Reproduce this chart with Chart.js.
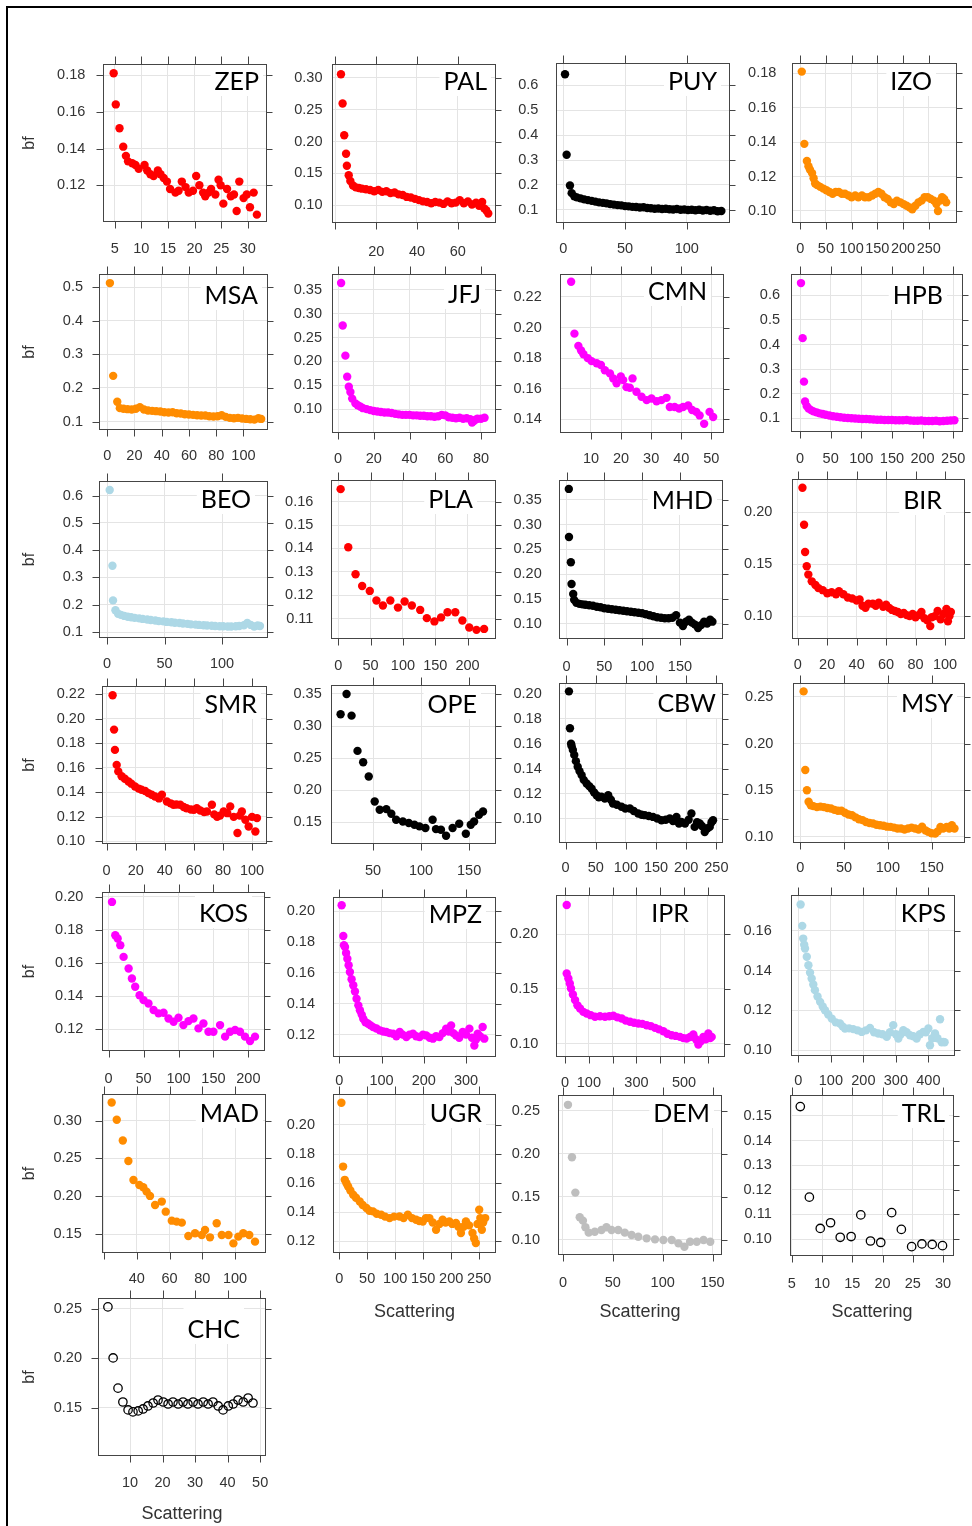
<!DOCTYPE html>
<html>
<head>
<meta charset="utf-8">
<title>bf vs Scattering</title>
<script src="https://cdn.jsdelivr.net/npm/chart.js@4.4.0/dist/chart.umd.min.js"></script>
<style>
  body { margin:0; background:#fff; }
  #page { position:relative; width:972px; height:1526px; overflow:hidden; }
  #frame { position:absolute; left:6px; top:6px; width:990px; height:1540px; border-left:2px solid #000; border-top:2px solid #000; }
  canvas { position:absolute; }
</style>
</head>
<body>
<div id="page"><div id="frame"></div></div>
<script>
// [scattering, bf] pairs
const zep = [[4.8,0.181],[5.2,0.164],[5.9,0.151],[6.6,0.141],[7.1,0.136],[7.5,0.133],[8.3,0.132],[8.9,0.131],[9.5,0.129],[10.6,0.131],[11.1,0.128],[11.7,0.126],[12.3,0.125],[13.1,0.128],[13.6,0.126],[14.2,0.124],[14.8,0.122],[15.4,0.118],[16.4,0.116],[17.0,0.117],[17.6,0.122],[18.3,0.119],[18.9,0.116],[19.7,0.117],[20.3,0.125],[20.9,0.120],[21.6,0.116],[22.0,0.114],[22.6,0.116],[23.1,0.118],[23.9,0.115],[24.5,0.123],[24.9,0.120],[25.4,0.110],[26.1,0.118],[26.8,0.114],[27.4,0.115],[27.9,0.106],[28.4,0.122],[29.2,0.113],[29.8,0.115],[30.4,0.108],[31.1,0.116],[31.7,0.104]];
const pal = [[2.7,0.306],[3.5,0.260],[4.3,0.210],[5.2,0.181],[5.6,0.162],[6.5,0.147],[7.3,0.138],[8.6,0.131],[10,0.128],[11.5,0.127],[13,0.126],[15,0.125],[17,0.124],[19,0.122],[21,0.124],[23,0.121],[25,0.122],[27,0.119],[29,0.120],[31,0.117],[33,0.116],[35,0.113],[37,0.112],[39,0.110],[41,0.108],[43,0.106],[45,0.105],[47,0.103],[49,0.105],[51,0.104],[53,0.102],[55,0.106],[57,0.103],[59,0.104],[61,0.108],[63,0.103],[65,0.106],[67,0.101],[69,0.104],[70.5,0.099],[72,0.105],[73,0.095],[74,0.092],[75,0.087]];
const puy = [[1.4,0.645],[2.7,0.321],[5.4,0.198],[6.8,0.167],[8.9,0.154],[11,0.150],[14,0.146],[17,0.142],[20,0.139],[23,0.136],[26,0.133],[29,0.130],[32,0.128],[35,0.126],[38,0.123],[41,0.121],[44,0.119],[47,0.118],[50,0.115],[53,0.114],[56,0.112],[59,0.111],[62,0.109],[65,0.110],[68,0.107],[71,0.106],[74,0.104],[77,0.105],[80,0.103],[83,0.104],[86,0.102],[89,0.101],[92,0.103],[95,0.100],[98,0.101],[101,0.099],[104,0.100],[107,0.098],[110,0.100],[113,0.097],[116,0.099],[119,0.096],[122,0.098],[125,0.094],[128,0.095]];
const izo = [[3,0.181],[8,0.139],[13,0.129],[16,0.126],[19,0.124],[23,0.122],[26,0.119],[29,0.116],[33,0.115],[39,0.114],[45,0.113],[51,0.112],[57,0.111],[63,0.110],[69,0.111],[75,0.111],[81,0.110],[87,0.110],[94,0.109],[100,0.108],[107,0.109],[113,0.108],[120,0.109],[126,0.108],[133,0.108],[140,0.109],[146,0.110],[152,0.111],[158,0.110],[164,0.108],[170,0.107],[176,0.105],[182,0.104],[188,0.106],[195,0.105],[201,0.104],[207,0.103],[213,0.102],[218,0.101],[224,0.103],[230,0.105],[236,0.106],[242,0.108],[248,0.108],[254,0.107],[260,0.106],[265,0.104],[268,0.100],[272,0.106],[276,0.108],[280,0.107],[284,0.105]];
const msa = [[2,0.512],[4.4,0.236],[7.4,0.159],[9.3,0.140],[12,0.138],[15,0.137],[18,0.136],[21,0.138],[24,0.143],[27,0.136],[30,0.133],[33,0.132],[36,0.131],[39,0.130],[42,0.128],[45,0.127],[48,0.128],[51,0.125],[54,0.124],[57,0.122],[60,0.121],[63,0.120],[66,0.119],[69,0.118],[72,0.118],[75,0.116],[78,0.115],[81,0.116],[84,0.119],[87,0.114],[90,0.111],[93,0.110],[96,0.111],[99,0.109],[102,0.108],[105,0.107],[108,0.106],[111,0.110],[113,0.108]];
const jfj = [[1.7,0.364],[2.6,0.275],[4.1,0.212],[5.1,0.168],[6,0.147],[6.9,0.136],[7.9,0.122],[9.7,0.112],[11,0.108],[12.6,0.105],[14,0.102],[16,0.100],[18,0.098],[20,0.096],[22,0.095],[24,0.094],[26,0.093],[28,0.093],[30,0.092],[32,0.090],[34,0.089],[36,0.088],[38,0.088],[40,0.088],[42,0.087],[44,0.087],[46,0.086],[48,0.086],[50,0.085],[52,0.085],[54,0.084],[56,0.085],[58,0.088],[60,0.087],[62,0.083],[64,0.082],[66,0.081],[68,0.082],[70,0.080],[72,0.081],[74,0.079],[75,0.072],[76,0.075],[77,0.078],[78,0.080],[80,0.080],[82,0.082]];
const cmn = [[3.4,0.2299],[4.5,0.196],[5.8,0.188],[6.7,0.185],[7.5,0.1825],[8.9,0.180],[10.2,0.178],[11.9,0.1766],[13.3,0.1755],[14.6,0.172],[16.3,0.170],[17.4,0.1667],[18.5,0.1635],[19.9,0.168],[20.7,0.1656],[21.8,0.161],[22.9,0.1606],[23.8,0.1667],[25.1,0.158],[26.8,0.1547],[28.5,0.1525],[30.1,0.1536],[31.8,0.1518],[33.4,0.1525],[35.1,0.154],[36.2,0.148],[37.8,0.148],[39.3,0.147],[40.6,0.148],[42.3,0.149],[43.6,0.146],[45,0.1448],[46.1,0.1425],[47.6,0.137],[49.4,0.1448],[50.6,0.1415]];
const hpb = [[1.6,0.650],[4.3,0.426],[6.5,0.249],[8.2,0.168],[10.9,0.150],[14,0.140],[18,0.133],[22,0.128],[27,0.124],[32,0.120],[37,0.117],[42,0.114],[48,0.111],[54,0.108],[60,0.106],[66,0.104],[72,0.102],[78,0.101],[84,0.100],[90,0.099],[96,0.098],[102,0.097],[108,0.097],[114,0.096],[120,0.095],[126,0.094],[132,0.094],[138,0.093],[144,0.093],[150,0.093],[156,0.092],[162,0.092],[168,0.092],[174,0.093],[180,0.091],[186,0.090],[192,0.090],[198,0.091],[204,0.089],[210,0.089],[216,0.089],[222,0.090],[228,0.088],[234,0.089],[240,0.090],[246,0.091],[252,0.092]];
const beo = [[2.3,0.621],[4.7,0.343],[5.2,0.216],[7.3,0.180],[9.6,0.167],[12,0.163],[15,0.159],[18,0.156],[21,0.154],[24,0.152],[28,0.150],[31,0.148],[35,0.146],[38,0.144],[42,0.142],[45,0.140],[49,0.139],[52,0.137],[56,0.136],[59,0.134],[63,0.133],[66,0.131],[70,0.130],[73,0.128],[77,0.127],[80,0.126],[84,0.125],[87,0.124],[91,0.123],[94,0.122],[98,0.121],[101,0.121],[105,0.120],[108,0.120],[112,0.121],[115,0.122],[119,0.125],[122,0.133],[125,0.126],[128,0.120],[131,0.124],[133,0.122]];
const pla = [[3.6,0.1653],[15.4,0.1405],[26.7,0.129],[36.9,0.124],[48.7,0.1219],[59,0.1178],[69,0.1157],[80.5,0.1178],[92.3,0.1148],[102.6,0.1174],[113.8,0.1157],[126.7,0.1138],[137,0.1103],[148.7,0.1089],[159,0.1106],[169,0.1128],[181,0.1128],[192,0.1093],[202.6,0.1063],[213.8,0.1053],[225.6,0.1057]];
const mhd = [[3,0.372],[3.2,0.275],[5.7,0.224],[6.6,0.180],[8.8,0.160],[10,0.148],[13,0.142],[17,0.140],[21,0.139],[25,0.138],[30,0.137],[35,0.136],[40,0.134],[45,0.133],[50,0.131],[55,0.130],[60,0.129],[65,0.128],[70,0.127],[75,0.126],[80,0.125],[85,0.124],[90,0.123],[95,0.122],[100,0.121],[105,0.119],[110,0.117],[115,0.115],[120,0.113],[125,0.112],[130,0.111],[135,0.111],[140,0.112],[145,0.117],[150,0.102],[154,0.095],[158,0.104],[162,0.108],[166,0.102],[170,0.098],[174,0.091],[178,0.097],[182,0.104],[186,0.100],[190,0.108],[193,0.104]];
const bir = [[3.2,0.2236],[4.3,0.188],[5,0.1617],[6.1,0.148],[7.2,0.140],[9.5,0.1335],[12,0.130],[14,0.127],[17,0.125],[20,0.122],[23,0.123],[26,0.121],[28,0.124],[31,0.121],[34,0.118],[37,0.117],[40,0.115],[42,0.116],[44,0.110],[46,0.108],[48,0.112],[51,0.112],[53,0.110],[55,0.113],[58,0.109],[60,0.111],[62,0.108],[64,0.106],[66,0.105],[68,0.104],[70,0.102],[72,0.103],[74,0.101],[76,0.100],[78,0.102],[80,0.099],[82,0.101],[84,0.104],[86,0.098],[88,0.096],[90,0.0904],[91,0.099],[93,0.100],[95,0.105],[97,0.097],[99,0.102],[101,0.107],[102,0.095],[103,0.100],[104,0.104]];
const smr = [[4.1,0.219],[5.1,0.191],[5.7,0.1745],[6.9,0.1623],[8,0.157],[10.3,0.153],[12.5,0.151],[15,0.1488],[17,0.147],[19.5,0.1447],[22,0.143],[24,0.142],[26.5,0.141],[28.7,0.1393],[31,0.138],[33.3,0.1366],[36,0.135],[38,0.138],[41.4,0.1325],[44,0.131],[46,0.1298],[48,0.130],[50.6,0.1298],[53,0.128],[55,0.127],[58,0.126],[60,0.1257],[62,0.127],[64.4,0.1252],[67,0.124],[69,0.1244],[72.4,0.1298],[74,0.122],[76,0.120],[78,0.121],[80.5,0.1244],[83,0.123],[85,0.1285],[87.4,0.120],[90,0.1068],[91.5,0.121],[93,0.1244],[95.4,0.1176],[97.7,0.1122],[100,0.120],[102.3,0.1081],[103.4,0.119]];
const ope = [[16.2,0.3184],[22.4,0.35],[27.6,0.3163],[33.8,0.2614],[39.7,0.2438],[45.5,0.2215],[51.7,0.1826],[56.9,0.1697],[63.8,0.1707],[69,0.1635],[74,0.1541],[81,0.1515],[87.2,0.149],[93.1,0.1464],[98.3,0.1438],[104.5,0.1412],[112,0.1541],[115.5,0.1396],[120.7,0.1386],[126,0.1293],[132.8,0.1412],[139.7,0.148],[146.6,0.1324],[151.7,0.1464],[155.2,0.1515],[160.3,0.1619],[164.5,0.1671]];
const cbw = [[5.5,0.2019],[7.2,0.1724],[9,0.160],[10,0.158],[12,0.155],[14.3,0.151],[17,0.146],[20,0.1415],[23,0.138],[26.5,0.1348],[30,0.131],[34.8,0.1281],[39,0.126],[43,0.124],[47,0.121],[51.3,0.1187],[55,0.117],[59.6,0.1174],[65,0.116],[70.6,0.1187],[75,0.115],[78.5,0.112],[85,0.111],[92.7,0.1094],[99,0.108],[106.5,0.108],[113,0.106],[120.3,0.104],[126,0.103],[131.3,0.1027],[138,0.102],[145,0.1013],[152,0.100],[159,0.0986],[166,0.099],[172.7,0.1],[178,0.098],[183.8,0.1013],[188,0.096],[192,0.0973],[198,0.096],[204,0.099],[208.6,0.104],[214,0.0933],[218,0.097],[222.4,0.096],[226,0.094],[230.7,0.0892],[235,0.092],[239,0.0933],[242,0.097],[244.5,0.0986]];
const msy = [[3.8,0.256],[5.7,0.1718],[7.6,0.150],[9.5,0.1377],[12,0.134],[15,0.133],[19,0.132],[23,0.1325],[27,0.132],[31,0.131],[35,0.1305],[39,0.129],[43,0.128],[47,0.128],[51,0.126],[55,0.124],[59,0.1233],[63,0.121],[67,0.119],[71,0.118],[75,0.116],[79,0.115],[83,0.1144],[87,0.113],[91,0.1126],[95,0.112],[99,0.111],[103,0.1108],[107,0.110],[111,0.109],[115,0.109],[119,0.108],[123,0.109],[127,0.110],[131,0.109],[135,0.108],[139,0.111],[143,0.107],[146,0.1054],[150,0.104],[154,0.1036],[157,0.106],[160,0.1108],[163,0.109],[167,0.1108],[170,0.109],[173,0.1126],[176,0.109]];
const kos = [[4.8,0.197],[9.5,0.1768],[12.9,0.1748],[16.7,0.1708],[21.4,0.1637],[28.6,0.1567],[33.3,0.1506],[38,0.1456],[44.3,0.1405],[50,0.1375],[57,0.1355],[64.3,0.1315],[71.4,0.1295],[78.6,0.1299],[85.7,0.1264],[93,0.1244],[100,0.1268],[107,0.1224],[114.3,0.1248],[121.4,0.1264],[128.6,0.1204],[135.7,0.1234],[142.9,0.1184],[150,0.1184],[159.5,0.1224],[166.7,0.1154],[173.8,0.1184],[181,0.1194],[188,0.1184],[195.2,0.1154],[202.4,0.1127],[209.5,0.1154]];
const mpz = [[5.5,0.2039],[9.4,0.184],[11,0.178],[13.4,0.1769],[16,0.173],[19,0.1693],[22,0.165],[25,0.1606],[29,0.156],[33,0.152],[37,0.148],[40.8,0.1433],[45,0.139],[48.7,0.1358],[53,0.133],[56.6,0.1303],[62,0.128],[68.3,0.1271],[74,0.126],[80,0.1249],[88,0.124],[96,0.1228],[104,0.122],[111.5,0.1217],[119,0.121],[127.3,0.1206],[135,0.119],[143,0.1217],[150,0.120],[158.7,0.1185],[166,0.120],[174.4,0.1206],[182,0.119],[190,0.1185],[198,0.120],[205.8,0.1195],[214,0.118],[221.5,0.1174],[229,0.119],[237,0.1185],[245,0.121],[253,0.1239],[259,0.122],[264.7,0.126],[270,0.121],[276.5,0.1195],[284,0.118],[292.2,0.1217],[300,0.120],[308,0.1239],[314,0.118],[319.7,0.113],[324,0.117],[327.6,0.1206],[333,0.119],[339.4,0.125],[343.3,0.1174]];
const ipr = [[7,0.2269],[7,0.1642],[14,0.1596],[20,0.155],[25,0.1505],[33,0.145],[42,0.1398],[52,0.135],[63,0.1321],[77,0.129],[91,0.1275],[108,0.126],[126,0.1245],[147,0.125],[168,0.1245],[186,0.125],[203,0.1254],[220,0.124],[238,0.123],[255,0.121],[273,0.12],[290,0.119],[308,0.1183],[325,0.118],[343,0.1168],[360,0.116],[378,0.1144],[395,0.113],[413,0.1113],[430,0.109],[448,0.1076],[465,0.107],[483,0.1061],[497,0.105],[511,0.1046],[525,0.106],[539,0.1083],[550,0.104],[560,0.0991],[570,0.102],[581,0.1061],[591,0.104],[602,0.1092],[610,0.105],[616,0.1061]];
const kps = [[7,0.1732],[12,0.1625],[15,0.1561],[18,0.153],[20.5,0.1511],[26,0.147],[31,0.1427],[36,0.139],[41,0.136],[46,0.133],[51,0.1302],[59,0.127],[67,0.1243],[75,0.122],[82,0.1201],[92,0.118],[102.6,0.1159],[115,0.114],[128,0.1134],[136,0.112],[143.6,0.1109],[156,0.111],[169,0.1106],[182,0.110],[195,0.1092],[208,0.110],[220.5,0.1112],[233,0.109],[246,0.1084],[259,0.108],[272,0.1067],[282,0.109],[292,0.1126],[300,0.108],[307.7,0.1059],[315,0.108],[323,0.1101],[333,0.109],[343.6,0.1075],[354,0.107],[364,0.1059],[374,0.108],[384.6,0.1092],[392,0.109],[400,0.1109],[405,0.1025],[412,0.106],[420.5,0.1084],[428,0.106],[436,0.1156],[441,0.104],[446,0.1042],[450,0.104]];
const mad = [[24.7,0.3238],[27.8,0.3009],[31.5,0.2735],[34.9,0.2466],[38,0.2215],[41.6,0.2149],[44,0.2118],[46,0.2061],[48.1,0.2004],[51.2,0.1884],[55.3,0.1929],[57.7,0.1796],[61.4,0.1677],[64.4,0.1664],[67.5,0.1651],[71.5,0.1474],[75.6,0.151],[79.7,0.1488],[81.7,0.1554],[84.7,0.1457],[88.8,0.1642],[91.9,0.1488],[96,0.1488],[99,0.1377],[102,0.1466],[105,0.151],[108.7,0.1488],[112.2,0.14]];
const ugr = [[4,0.2153],[7,0.1714],[10,0.1623],[13,0.160],[16,0.1577],[20,0.155],[25,0.152],[30,0.150],[36.7,0.1474],[42,0.145],[48.6,0.1429],[54,0.141],[60.4,0.1406],[67,0.139],[75,0.1383],[82,0.137],[90,0.136],[98,0.137],[107.8,0.1371],[115,0.136],[122.6,0.1383],[130,0.136],[137.4,0.1349],[143,0.134],[149.3,0.1337],[155,0.136],[161,0.136],[167,0.133],[173,0.128],[179,0.132],[184.8,0.1349],[190,0.133],[196.7,0.1337],[202,0.132],[208.5,0.1326],[213,0.130],[217.4,0.1257],[222,0.130],[226.3,0.1337],[232,0.131],[238,0.1257],[241,0.122],[244,0.1189],[247,0.132],[250,0.1417],[252,0.136],[254.7,0.128],[257,0.133],[260.7,0.136]];
const dem = [[5,0.2566],[9,0.1959],[12.4,0.1549],[16.8,0.1263],[20,0.1224],[22.5,0.1147],[25.8,0.1085],[31.9,0.1096],[38.6,0.1116],[43.6,0.1147],[48.7,0.1116],[55.4,0.1116],[62,0.1085],[68.8,0.1058],[75.5,0.1038],[83.9,0.1019],[92.3,0.1007],[100.7,0.1],[109,0.1],[115.8,0.0961],[121.8,0.0922],[127.5,0.098],[134.2,0.098],[141,0.1],[147.7,0.098]];
const trl = [[6.4,0.1538],[7.9,0.117],[9.7,0.1043],[11.4,0.1066],[13,0.1007],[14.8,0.101],[16.4,0.1098],[18,0.0992],[19.7,0.0986],[21.5,0.1107],[23.1,0.1039],[24.8,0.0969],[26.5,0.098],[28.2,0.0978],[29.9,0.0973]];
const chc = [[3.2,0.252],[4.8,0.2005],[6.3,0.170],[7.8,0.156],[9.4,0.148],[10.9,0.146],[12.5,0.147],[14,0.149],[15.5,0.152],[17.1,0.155],[18.6,0.158],[20.2,0.156],[21.7,0.154],[23.2,0.156],[24.8,0.154],[26.3,0.156],[27.8,0.154],[29.4,0.156],[30.9,0.154],[32.5,0.156],[34,0.154],[35.5,0.156],[37.1,0.152],[38.6,0.148],[40.2,0.152],[41.7,0.154],[43.2,0.158],[44.8,0.156],[46.3,0.160],[47.8,0.155]];

const RED = '#ff0000', BLACK = '#000000', ORANGE = '#ff8c00', MAGENTA = '#ff00ff', LIGHTBLUE = '#add8e6', GREY = '#bebebe';

// layout of each panel: plot box [left, top, right, bottom], axis limits and ticks
const panels = [
  {name:'ZEP', pts:zep, col:RED, box:[103,64,267,222], xr:[2.8,33.6], yr:[0.100,0.186], xt:[5,10,15,20,25,30], yt:[0.12,0.14,0.16,0.18], yd:2, ypad:17.7, xly:248.5, dx:8, base:26, first:true},
  {name:'PAL', pts:pal, col:RED, box:[332,64,496,223], xr:[-1.7,78.8], yr:[0.072,0.322], xt:[0,20,40,60], xh:[0], yt:[0.10,0.15,0.20,0.25,0.30], yd:2, ypad:9.5, xly:251.5, dx:9, base:26},
  {name:'PUY', pts:puy, col:BLACK, box:[556,63,730,223], xr:[-5.9,135], yr:[0.047,0.690], xt:[0,50,100], yt:[0.1,0.2,0.3,0.4,0.5,0.6], yd:1, ypad:17.7, xly:249, dx:13, base:27},
  {name:'IZO', pts:izo, col:ORANGE, box:[792,63,957,223], xr:[-16,305], yr:[0.093,0.186], xt:[0,50,100,150,200,250], yt:[0.10,0.12,0.14,0.16,0.18], yd:2, ypad:15.7, xly:249, dx:25, base:27},
  {name:'MSA', pts:msa, col:ORANGE, box:[99,274,268,430], xr:[-6,118], yr:[0.075,0.539], xt:[0,20,40,60,80,100], yt:[0.1,0.2,0.3,0.4,0.5], yd:1, ypad:16, xly:456, dx:10, base:30, first:true},
  {name:'JFJ', pts:jfj, col:MAGENTA, box:[332,274,496,433], xr:[-3.4,88.4], yr:[0.05,0.383], xt:[0,20,40,60,80], yt:[0.10,0.15,0.20,0.25,0.30,0.35], yd:2, ypad:10, xly:459, dx:15, base:29},
  {name:'CMN', pts:cmn, col:MAGENTA, box:[560,274,724,433], xr:[-0.3,54.2], yr:[0.131,0.235], xt:[10,20,30,40,50], yt:[0.14,0.16,0.18,0.20,0.22], yd:2, ypad:18.3, xly:459, dx:17, base:26},
  {name:'HPB', pts:hpb, col:MAGENTA, box:[791,274,963,432], xr:[-14.7,266], yr:[0.044,0.687], xt:[0,50,100,150,200,250], yt:[0.1,0.2,0.3,0.4,0.5,0.6], yd:1, ypad:11, xly:459, dx:20, base:30},
  {name:'BEO', pts:beo, col:LIGHTBLUE, box:[99,481,268,638], xr:[-7,140], yr:[0.078,0.654], xt:[0,50,100], yt:[0.1,0.2,0.3,0.4,0.5,0.6], yd:1, ypad:16, xly:663.5, dx:17, base:27, first:true},
  {name:'PLA', pts:pla, col:RED, box:[331,480,496,639], xr:[-11.3,244], yr:[0.1014,0.1692], xt:[0,50,100,150,200], yt:[0.11,0.12,0.13,0.14,0.15,0.16], yd:2, ypad:17.7, xly:666, dx:23, base:28},
  {name:'MHD', pts:mhd, col:BLACK, box:[559,480,723,639], xr:[-10,207], yr:[0.069,0.390], xt:[0,50,100,150], yt:[0.10,0.15,0.20,0.25,0.30,0.35], yd:2, ypad:17.3, xly:666.5, dx:10, base:29},
  {name:'BIR', pts:bir, col:RED, box:[792,479,965,639], xr:[-3.9,113.6], yr:[0.078,0.232], xt:[0,20,40,60,80,100], yt:[0.10,0.15,0.20], yd:2, ypad:19.7, xly:665, dx:23, base:30},
  {name:'SMR', pts:smr, col:RED, box:[102,686,267,844], xr:[-3.2,110.3], yr:[0.0979,0.2265], xt:[0,20,40,60,80,100], yt:[0.10,0.12,0.14,0.16,0.18,0.20,0.22], yd:2, ypad:17, xly:871, dx:10, base:27, first:true},
  {name:'OPE', pts:ope, col:BLACK, box:[331,685,496,844], xr:[6.2,178], yr:[0.1164,0.364], xt:[50,100,150], yt:[0.15,0.20,0.25,0.30,0.35], yd:2, ypad:9.3, xly:871, dx:19, base:28},
  {name:'CBW', pts:cbw, col:BLACK, box:[559,683,723,843], xr:[-11,261], yr:[0.0804,0.2086], xt:[0,50,100,150,200,250], yt:[0.10,0.12,0.14,0.16,0.18,0.20], yd:2, ypad:17.3, xly:868, dx:7, base:29},
  {name:'MSY', pts:msy, col:ORANGE, box:[793,683,965,843], xr:[-8.3,188], yr:[0.0935,0.265], xt:[0,50,100,150], yt:[0.10,0.15,0.20,0.25], yd:2, ypad:19.7, xly:868, dx:12, base:29},
  {name:'KOS', pts:kos, col:MAGENTA, box:[102,892,265,1051], xr:[-9.5,223.8], yr:[0.1067,0.203], xt:[0,50,100,150,200], yt:[0.12,0.14,0.16,0.18,0.20], yd:2, ypad:18.7, xly:1079, dx:17, base:30, first:true},
  {name:'MPZ', pts:mpz, col:MAGENTA, box:[333,897,496,1057], xr:[-15,371], yr:[0.1055,0.2093], xt:[0,100,200,300], yt:[0.12,0.14,0.16,0.18,0.20], yd:2, ypad:18, xly:1081, dx:14, base:26},
  {name:'IPR', pts:ipr, col:MAGENTA, box:[556,895,725,1057], xr:[-38,672], yr:[0.0877,0.236], xt:[0,100,200,300,400,500,600], xh:[200,400,600], yt:[0.10,0.15,0.20], yd:2, ypad:17.7, xly:1083, dx:36, base:27},
  {name:'KPS', pts:kps, col:LIGHTBLUE, box:[791,895,955,1056], xr:[-22.6,482], yr:[0.0971,0.178], xt:[0,100,200,300,400], yt:[0.10,0.12,0.14,0.16], yd:2, ypad:19.3, xly:1081, dx:9, base:27},
  {name:'MAD', pts:mad, col:ORANGE, box:[102,1094,266,1253], xr:[18.8,118.9], yr:[0.125,0.335], xt:[20,40,60,80,100], xh:[20], yt:[0.15,0.20,0.25,0.30], yd:2, ypad:20.3, xly:1279, dx:7, base:28, first:true},
  {name:'UGR', pts:ugr, col:ORANGE, box:[333,1094,496,1253], xr:[-11,280], yr:[0.112,0.2213], xt:[0,50,100,150,200,250], yt:[0.12,0.14,0.16,0.18,0.20], yd:2, ypad:18, xly:1279, dx:14, base:28, scat:1313},
  {name:'DEM', pts:dem, col:GREY, box:[558,1095,722,1255], xr:[-5,159.5], yr:[0.0826,0.268], xt:[0,50,100,150], yt:[0.10,0.15,0.20,0.25], yd:2, ypad:18, xly:1282.5, dx:12, base:27, scat:1313},
  {name:'TRL', pts:trl, col:BLACK, hollow:true, box:[790,1095,954,1256], xr:[4.7,31.8], yr:[0.0931,0.1585], xt:[5,10,15,20,25,30], yt:[0.10,0.11,0.12,0.13,0.14,0.15], yd:2, ypad:18.3, xly:1284, dx:9, base:27, scat:1313},
  {name:'CHC', pts:chc, col:BLACK, hollow:true, box:[98,1298,266,1456], xr:[0.15,51.8], yr:[0.1015,0.261], xt:[10,20,30,40,50], yt:[0.15,0.20,0.25], yd:2, ypad:16, xly:1483, dx:26, base:40, first:true, scat:1515}
];

const TICK_FONT = {family:"'Liberation Sans', Arial, sans-serif", size:14.5};
const TITLE_FAMILY = "'Liberation Sans', Arial, sans-serif";

// lattice-style box, outward ticks on all sides and the station name
const panelDeco = {
  id: 'panelDeco',
  beforeDatasetsDraw(chart, args, o) {
    const {ctx, chartArea: a} = chart;
    ctx.save();
    ctx.font = '25px Lato, "Open Sans", sans-serif';
    const tw = ctx.measureText(o.name).width;
    const x = a.right - o.dx;
    ctx.fillStyle = '#fff';
    ctx.fillRect(x - tw - 4, a.top + 1, tw + 8, o.base + 5);
    ctx.fillStyle = '#000';
    ctx.textAlign = 'right';
    ctx.textBaseline = 'alphabetic';
    ctx.fillText(o.name, x, a.top + o.base);
    ctx.restore();
  },
  afterDatasetsDraw(chart, args, o) {
    const {ctx, chartArea: a, scales} = chart;
    const L = Math.round(a.left) + 0.5, R = Math.round(a.right) - 0.5;
    const T = Math.round(a.top) + 0.5, B = Math.round(a.bottom) - 0.5;
    ctx.save();
    ctx.strokeStyle = '#454545';
    ctx.lineWidth = 1;
    ctx.strokeRect(L, T, R - L, B - T);
    ctx.beginPath();
    scales.x.ticks.forEach(t => {
      const px = Math.round(scales.x.getPixelForValue(t.value)) + 0.5;
      ctx.moveTo(px, B); ctx.lineTo(px, B + 7);
      ctx.moveTo(px, T); ctx.lineTo(px, T - 8);
    });
    scales.y.ticks.forEach(t => {
      const py = Math.round(scales.y.getPixelForValue(t.value)) + 0.5;
      ctx.moveTo(R, py); ctx.lineTo(R + 6, py);
      if (o.leftTicks) { ctx.moveTo(L, py); ctx.lineTo(L - 7, py); }
    });
    ctx.stroke();
    ctx.restore();
  }
};

const page = document.getElementById('page');

function drawPanel(p) {
  const [l, t, r, b] = p.box;
  const leftM = p.first ? l - 20 : 56;
  const topM = 12, rightM = 12;
  const botM = p.scat ? p.scat + 10 - b : 40;
  const xh = p.xh || [];

  const cv = document.createElement('canvas');
  cv.width = (r - l) + leftM + rightM;
  cv.height = (b - t) + topM + botM;
  cv.style.left = (l - leftM) + 'px';
  cv.style.top = (t - topM) + 'px';
  page.appendChild(cv);

  new Chart(cv.getContext('2d'), {
    type: 'scatter',
    data: {
      datasets: [{
        data: p.pts.map(([x, y]) => ({x, y})),
        pointRadius: 4.2,
        pointHoverRadius: 4.2,
        backgroundColor: p.hollow ? 'rgba(0,0,0,0)' : p.col,
        borderColor: p.col,
        borderWidth: p.hollow ? 1.3 : 0,
        clip: false
      }]
    },
    options: {
      responsive: false,
      animation: false,
      devicePixelRatio: 1,
      layout: { padding: { top: topM, right: rightM, left: 0, bottom: 0 } },
      plugins: {
        legend: { display: false },
        tooltip: { enabled: false },
        panelDeco: { name: p.name, dx: p.dx, base: p.base, leftTicks: !!p.first }
      },
      scales: {
        x: {
          type: 'linear', position: 'bottom',
          min: p.xr[0], max: p.xr[1],
          afterBuildTicks: s => { s.ticks = p.xt.map(v => ({value: v})); },
          afterFit: s => { s.height = botM; s.paddingLeft = 0; s.paddingRight = 0; },
          grid: { color: '#e4e4e4', drawTicks: false },
          border: { display: false },
          ticks: {
            autoSkip: false, maxRotation: 0, minRotation: 0,
            padding: p.xly - b - 8.7,
            color: '#333', font: TICK_FONT,
            callback: v => xh.includes(v) ? '' : String(v)
          },
          title: { display: !!p.scat, text: 'Scattering', color: '#333', padding: 0,
                   font: {family: TITLE_FAMILY, size: 18} }
        },
        y: {
          type: 'linear', position: 'left',
          min: p.yr[0], max: p.yr[1],
          afterBuildTicks: s => { s.ticks = p.yt.map(v => ({value: v})); },
          afterFit: s => { s.width = leftM; s.paddingTop = 0; s.paddingBottom = 0; },
          grid: { color: '#e4e4e4', drawTicks: false },
          border: { display: false },
          ticks: {
            padding: p.ypad,
            color: '#333', font: TICK_FONT,
            callback: v => v.toFixed(p.yd)
          },
          title: { display: !!p.first, text: 'bf', color: '#333', padding: 0,
                   font: {family: TITLE_FAMILY, size: 16} }
        }
      }
    },
    plugins: [panelDeco]
  });
}

panels.forEach(drawPanel);
</script>
</body>
</html>
